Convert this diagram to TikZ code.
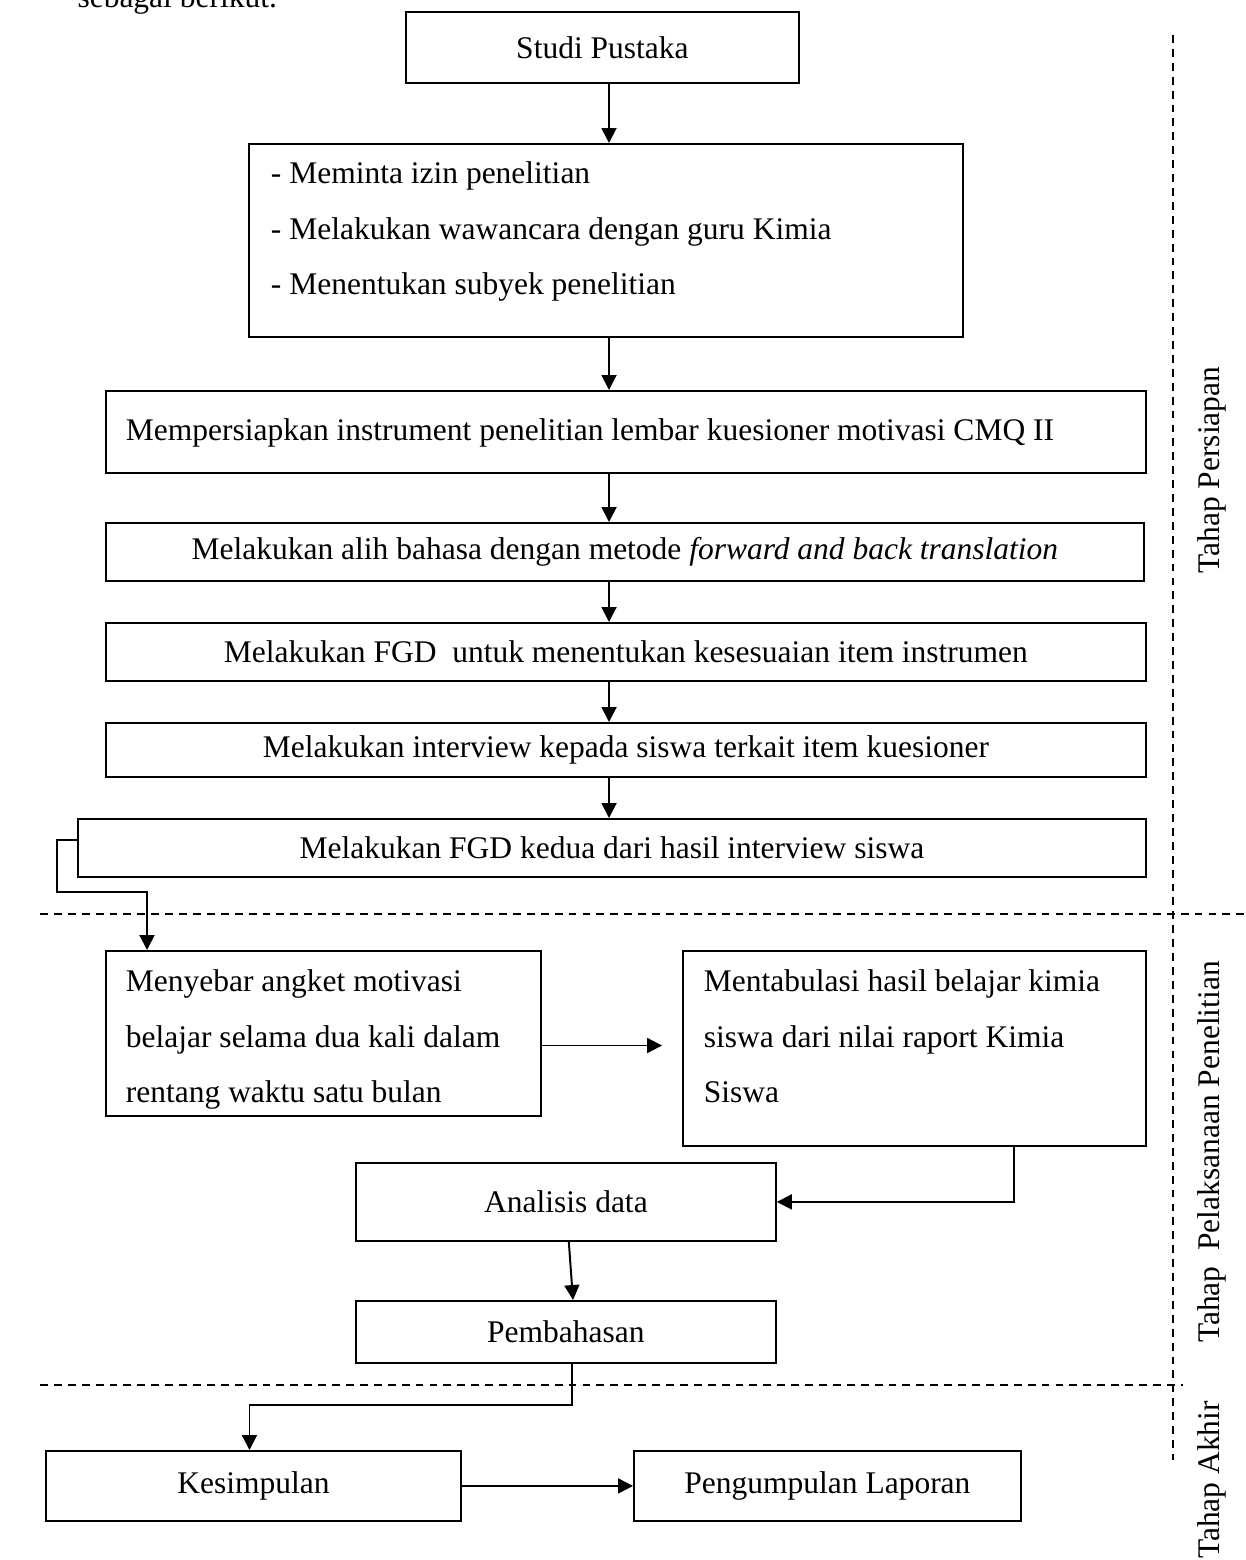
\documentclass[tikz,border=0pt]{standalone}
\usepackage{fontspec}
\setmainfont{Liberation Serif}
\usetikzlibrary{arrows.meta}
\newdimen\pu \pu=0.381pt

\tikzset{
  box/.style={draw, line width=0.7pt, rectangle, inner sep=0pt, anchor=north west},
  arr/.style={line width=0.75pt, -{Triangle[length=5.7pt,width=5.7pt]}},
  fase/.style={line width=0.55pt, dash pattern=on 3pt off 2.3pt},
  tahap/.style={rotate=90, inner sep=0pt},
}

\begin{document}
\begin{tikzpicture}[x=0.381pt, y=-0.381pt, font=\fontsize{12}{21.1}\selectfont]
    \useasboundingbox (0,0) rectangle (1245,1560);

    % cut-off line of the text above
    \node[anchor=base west, inner sep=0pt] (kalimat) at (77,8) {sebagai berikut.};

    % Tahap Persiapan
    \node[box, minimum width=393\pu, minimum height=71\pu] (studi) at (405,11) {Studi Pustaka};
    \node[box, minimum width=714\pu, text width=670\pu, align=flush left,
          text height=40\pu, text depth=153\pu] (izin) at (248,143)
          {- Meminta izin penelitian\\- Melakukan wawancara dengan guru Kimia\\- Menentukan subyek penelitian};
    \node[box, minimum width=1040\pu, text width=1000\pu, align=flush left,
          text height=50\pu, text depth=32\pu] (siapkan) at (105,390)
          {Mempersiapkan instrument penelitian lembar kuesioner motivasi CMQ II};
    \node[box, minimum width=1038\pu, minimum height=58\pu] (alih) at (105,522)
          {Melakukan alih bahasa dengan metode \textit{forward and back translation}};
    \node[box, minimum width=1040\pu, minimum height=58\pu] (fgd) at (105,622)
          {Melakukan FGD~ untuk menentukan kesesuaian item instrumen};
    \node[box, minimum width=1040\pu, minimum height=54\pu] (interview) at (105,722)
          {Melakukan interview kepada siswa terkait item kuesioner};
    \node[box, minimum width=1068\pu, minimum height=58\pu] (fgdii) at (77,818)
          {Melakukan FGD kedua dari hasil interview siswa};

    % Tahap Pelaksanaan
    \node[box, minimum width=435\pu, text width=395\pu, align=flush left,
          text height=41\pu, text depth=124\pu] (sebar) at (105,950)
          {Menyebar angket motivasi\\belajar selama dua kali dalam\\rentang waktu satu bulan};
    \node[box, minimum width=463\pu, text width=421\pu, align=flush left,
          text height=41\pu, text depth=154\pu] (tabulasi) at (682,950)
          {Mentabulasi hasil belajar kimia\\siswa dari nilai raport Kimia\\Siswa};
    \node[box, minimum width=420\pu, minimum height=78\pu] (analisis) at (355,1162) {Analisis data};
    \node[box, minimum width=420\pu, minimum height=62\pu] (bahas) at (355,1300) {Pembahasan};

    % Tahap Akhir
    \node[box, minimum width=415\pu, minimum height=70\pu] (simpul) at (45,1450) {Kesimpulan};
    \node[box, minimum width=387\pu, minimum height=70\pu] (laporan) at (633,1450) {Pengumpulan Laporan};

    % arrows down the middle
    \coordinate (axis) at (609,0);
    \foreach \a/\b in {studi/izin, izin/siapkan, siapkan/alih, alih/fgd, fgd/interview, interview/fgdii}
        \draw[arr] (\a.south -| axis) -- (\b.north -| axis);

    \draw[arr] ([yshift=-8.4pt]fgdii.north west) -- ++(-20,0)
        |- ([xshift=16pt,yshift=22.1pt]sebar.north west) -- ([xshift=16pt]sebar.north west);
    \draw[arr, shorten >=7.6pt] ([yshift=-4.6pt]sebar.east) -- ([yshift=-4.6pt]sebar.east -| tabulasi.west);
    \draw[arr] ([xshift=-50.7pt]tabulasi.south east) |- (analisis.east);
    \draw[arr] ([xshift=1.1pt]analisis.south) -- ([xshift=2.7pt]bahas.north);
    \draw[arr] ([xshift=2.3pt]bahas.south) -- ++(0,41) -| ([xshift=-1.5pt]simpul.north);
    \draw[arr] (simpul.east) -- (laporan.west);

    % phase separators
    \draw[fase] (40,914) -- (1245,914);
    \draw[fase] (40,1385) -- (1183,1385);
    \draw[fase] (1173,35) -- (1173,1460);

    % phase labels
    \node[tahap] (persiapan) at (1212,470) {Tahap Persiapan};
    \node[tahap] (pelaksanaan) at (1212,1152) {Tahap~ Pelaksanaan Penelitian};
    \node[tahap] (akhir) at (1212,1480) {Tahap Akhir};
\end{tikzpicture}
\end{document}
